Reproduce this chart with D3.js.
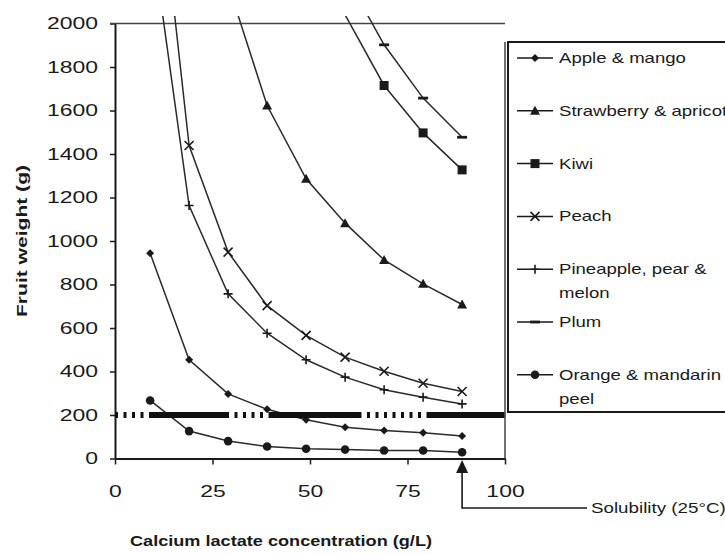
<!DOCTYPE html>
<html>
<head>
<meta charset="utf-8">
<script src="https://cdn.jsdelivr.net/npm/d3@7"></script>
<style>
  body { margin: 0; background: #fff; }
  svg { display: block; font-family: "Liberation Sans", Arial, sans-serif; }
</style>
</head>
<body>
<script>
'use strict';

// calcium lactate concentration (g/L) for every curve point
const concentration = [9, 19, 29, 39, 49, 59, 69, 79, 89];

// fruit weight (g) per series, null = no point
const appleMango        = [944, 454, 297, 226, 178, 144, 129, 118, 103];
const strawberryApricot = [null, null, 2180, 1623, 1286, 1082, 913, 803, 708];
const kiwi              = [null, null, null, null, null, 2040, 1715, 1497, 1327];
const peach             = [3055, 1439, 949, 703, 566, 466, 401, 346, 308];
const pineapplePearMelon = [2455, 1163, 757, 576, 454, 374, 316, 282, 251];
const plum              = [null, null, null, null, null, 2224, 1902, 1657, 1477];
const orangePeel        = [267, 126, 80, 55, 45, 41, 37, 37, 29];

const seriesNames = ["Apple & mango", "Strawberry & apricot", "Kiwi", "Peach",
                     "Pineapple, pear &\nmelon", "Plum", "Orange & mandarin\npeel"];
const seriesMarkers = ["diamond", "triangle", "square", "times", "plus", "dash", "circle"];

const xTicks = [0, 25, 50, 75, 100];
const yTicks = [0, 200, 400, 600, 800, 1000, 1200, 1400, 1600, 1800, 2000];

const solubility = 89;       // g/L at 25 C
const referenceWeight = 200; // g

(function() {

  const plot = {left: 115, right: 505, top: 23.5, bottom: 458.5};
  const ink = "#1a1a1a";

  const svg = d3.select('body')
    .append('svg')
    .attr('width', 725)
    .attr('height', 554);

  const x = d3.scaleLinear().domain([0, 100]).range([plot.left, plot.right]);
  const y = d3.scaleLinear().domain([0, 2000]).range([plot.bottom, plot.top]);

  // stretch text horizontally, the source picture is wide
  function widen(sel, k) {
    sel.each(function() {
      const len = this.getComputedTextLength();
      d3.select(this).attr('textLength', len * k).attr('lengthAdjust', 'spacingAndGlyphs');
    });
  }

  // marker shape for each series
  function marker(sel, type) {
    const s = 4.5;
    if (type === 'circle') {
      sel.append('circle').attr('r', 4.3).attr('fill', ink);
    } else if (type === 'square') {
      sel.append('rect').attr('x', -4.5).attr('y', -4.5).attr('width', 9).attr('height', 9).attr('fill', ink);
    } else if (type === 'diamond') {
      sel.append('path').attr('d', 'M0,-4L4,0L0,4L-4,0Z').attr('fill', ink);
    } else if (type === 'triangle') {
      sel.append('path').attr('d', 'M0,-5L5,4L-5,4Z').attr('fill', ink);
    } else if (type === 'times') {
      sel.append('path').attr('d', `M${-s},${-s}L${s},${s}M${-s},${s}L${s},${-s}`)
        .attr('stroke', ink).attr('stroke-width', 1.6);
    } else if (type === 'plus') {
      sel.append('path').attr('d', `M0,${-s}V${s}M${-s},0H${s}`)
        .attr('stroke', ink).attr('stroke-width', 1.6);
    } else if (type === 'dash') {
      sel.append('rect').attr('x', -5).attr('y', -1.4).attr('width', 10).attr('height', 2.8).attr('fill', ink);
    }
  }

  const series = [appleMango, strawberryApricot, kiwi, peach, pineapplePearMelon, plum, orangePeel]
    .map((vals, i) => ({
      name: seriesNames[i],
      marker: seriesMarkers[i],
      points: vals.map((v, j) => ({c: concentration[j], w: v})).filter(p => p.w !== null)
    }));

  // axes
  const yAxis = svg.append('g')
    .attr('transform', `translate(${plot.left},0)`)
    .call(d3.axisLeft(y).tickValues(yTicks).tickFormat(d3.format('d'))
      .tickSize(5).tickSizeOuter(0).tickPadding(12));
  yAxis.selectAll('text').style('font-size', '17px').attr('fill', ink).call(widen, 1.35);

  const xAxis = svg.append('g')
    .attr('transform', `translate(0,${plot.bottom})`)
    .call(d3.axisBottom(x).tickValues(xTicks).tickFormat(d3.format('d'))
      .tickSize(6).tickSizeOuter(0).tickPadding(20));
  xAxis.selectAll('text').style('font-size', '17px').attr('fill', ink).call(widen, 1.35);

  svg.selectAll('.domain').attr('stroke', ink).attr('stroke-width', 2);
  svg.selectAll('.tick line').attr('stroke', ink).attr('stroke-width', 1.5);

  // plot frame: top and right edges
  svg.append('line')
    .attr('x1', plot.left - 5).attr('x2', plot.right)
    .attr('y1', plot.top).attr('y2', plot.top)
    .attr('stroke', '#444').attr('stroke-width', 1.5);
  svg.append('line')
    .attr('x1', plot.right).attr('x2', plot.right)
    .attr('y1', 42).attr('y2', plot.bottom)
    .attr('stroke', '#444').attr('stroke-width', 1.5);

  // lines run a little past the 2000 line, then get cut
  svg.append('clipPath').attr('id', 'clip')
    .append('rect')
    .attr('x', plot.left).attr('y', 16)
    .attr('width', plot.right - plot.left).attr('height', plot.bottom - 16 + 2);

  const line = d3.line()
    .x(d => x(d.c))
    .y(d => y(d.w));

  const plotG = svg.append('g').attr('clip-path', 'url(#clip)');

  plotG.selectAll('.series')
    .data(series)
    .enter()
    .append('path')
      .attr('d', d => line(d.points))
      .attr('fill', 'none')
      .attr('stroke', '#2a2a2a')
      .attr('stroke-width', 1.5);

  series.forEach(s => {
    s.points.filter(p => p.w <= 2000).forEach(p => {
      svg.append('g')
        .attr('transform', `translate(${x(p.c)},${y(p.w)})`)
        .call(marker, s.marker);
    });
  });

  // 200 g reference line, broken dash pattern
  const refStart = plot.left, refEnd = 508;
  const refSegments = [[0, 33, 'dot'], [33, 110, 'solid'], [110, 147, 'dot'], [147, 237, 'solid'],
                       [237, 305, 'dot'], [305, 380, 'solid'], [380, 393, 'dot']];
  const dash = [];
  refSegments.forEach(([a, b, t]) => {
    if (t === 'solid') {
      dash.push(b - a, 0);
    } else {
      for (let p = a; p < b; p += 8.5) dash.push(3, 5.5);
    }
  });
  svg.append('line')
    .attr('x1', refStart).attr('x2', refEnd)
    .attr('y1', y(referenceWeight)).attr('y2', y(referenceWeight))
    .attr('stroke', '#111')
    .attr('stroke-width', 6)
    .attr('stroke-dasharray', dash.join(' '));

  // solubility arrow
  const sx = x(solubility);
  svg.append('path')
    .attr('d', `M${sx},460L${sx + 6},473L${sx - 6},473Z`)
    .attr('fill', ink);
  svg.append('path')
    .attr('d', `M${sx},472V508H587`)
    .attr('fill', 'none')
    .attr('stroke', ink)
    .attr('stroke-width', 1.6);
  svg.append('text')
    .attr('x', 591)
    .attr('y', 513)
    .style('font-size', '14px')
    .attr('fill', ink)
    .text('Solubility (25\u00B0C)')
    .call(widen, 1.34);

  // axis titles
  svg.append('text')
    .attr('x', 281)
    .attr('y', 546)
    .attr('text-anchor', 'middle')
    .style('font-size', '15px')
    .style('font-weight', 'bold')
    .attr('fill', ink)
    .text('Calcium lactate concentration (g/L)')
    .attr('textLength', 302)
    .attr('lengthAdjust', 'spacingAndGlyphs');

  svg.append('text')
    .attr('transform', 'translate(27, 241)rotate(-90)')
    .attr('text-anchor', 'middle')
    .style('font-size', '15px')
    .style('font-weight', 'bold')
    .attr('fill', ink)
    .text('Fruit weight (g)')
    .attr('textLength', 152)
    .attr('lengthAdjust', 'spacingAndGlyphs');

  // legend
  svg.append('rect')
    .attr('x', 508).attr('y', 42)
    .attr('width', 240).attr('height', 370)
    .attr('fill', 'none')
    .attr('stroke', ink)
    .attr('stroke-width', 2);

  series.forEach((s, i) => {
    const ly = 58 + i * 52.8;
    const g = svg.append('g').attr('transform', `translate(0,${ly})`);
    g.append('line')
      .attr('x1', 517).attr('x2', 553)
      .attr('stroke', ink).attr('stroke-width', 1.5);
    g.append('g').attr('transform', 'translate(535,0)').call(marker, s.marker);
    s.name.split('\n').forEach((t, k) => {
      g.append('text')
        .attr('x', 559)
        .attr('y', 5 + k * 24)
        .style('font-size', '14.5px')
        .attr('fill', ink)
        .text(t)
        .call(widen, 1.28);
    });
  });

})();
</script>
</body>
</html>
